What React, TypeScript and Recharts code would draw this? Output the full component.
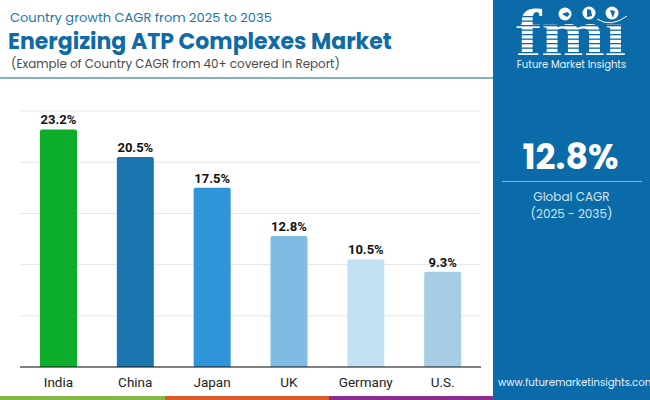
import { BarChart, Bar, XAxis, YAxis, CartesianGrid, Cell, LabelList } from 'recharts';

const countries = ['India', 'China', 'Japan', 'UK', 'Germany', 'U.S.'];
const cagr = [23.2, 20.5, 17.5, 12.8, 10.5, 9.3];
const barColors = ['#0cae2c', '#1b76b0', '#3095d8', '#7fbbe3', '#c3e0f3', '#a6cde4'];
const yTicks = [0, 5, 10, 15, 20, 25];

const chartData = countries.map((name, i) => ({ name, value: cagr[i] }));

const heading = 'Poppins, "Open Sans", Inter, sans-serif';
const stripes = [16, 20.5, 25, 29.5, 34, 38.5, 43, 47.5, 52];

function text(left: number, top: number, size: number, color: string, weight = 400) {
  return {
    position: 'absolute' as const,
    left,
    top,
    fontSize: size,
    color,
    fontWeight: weight,
    fontFamily: heading,
    lineHeight: 1,
    whiteSpace: 'nowrap' as const,
  };
}

function Logo() {
  return (
    <svg width={157} height={62} style={{ position: 'absolute', left: 0, top: 0 }}>
      <text x={23} y={55} fontFamily="'Liberation Serif', serif" fontWeight={700} fontSize={66} fill="#fff" textLength={110} lengthAdjust="spacingAndGlyphs">
        fmi
      </text>
      {stripes.map((y) => (
        <rect key={y} x={20} y={y} width={118} height={1.3} fill="#0b6aa8" />
      ))}
      <rect x={108} y={6} width={24} height={17} fill="#0b6aa8" />
      <circle cx={72} cy={14} r={6.5} fill="#fff" />
      <circle cx={96} cy={13} r={6.5} fill="#fff" />
      <circle cx={119} cy={13} r={6.5} fill="#fff" />
      <path d="M69 14 l5 -2 l3 2 l-3 3 z M94 9 l4 1 l1 6 l-5 1 z M117 10 l5 1 l-2 7 z" fill="#0b6aa8" />
      <path d="M104 19 Q118 28 134 16" fill="none" stroke="#fff" strokeWidth={1} />
    </svg>
  );
}

export default function App() {
  return (
    <div style={{ position: 'fixed', left: 0, top: 0, width: 650, height: 400, background: '#fff', overflow: 'hidden' }}>
      <div style={text(10, 10.5, 13, '#2176a8')}>Country growth CAGR from 2025 to 2035</div>
      <div style={text(8, 31, 22, '#0f6aa5', 700)}>Energizing ATP Complexes Market</div>
      <div style={text(11, 58.5, 11.9, '#4a4a4a')}>(Example of Country CAGR from 40+ covered in Report)</div>
      <div style={{ position: 'absolute', left: 0, top: 77, width: 493, height: 2, background: '#8aafc4' }} />

      <div style={{ position: 'absolute', left: 0, top: 90 }}>
        <BarChart
          width={493}
          height={306}
          data={chartData}
          margin={{ top: 21, right: 12, bottom: 4, left: 20 }}
        >
          <CartesianGrid vertical={false} stroke="#e6e6e6" strokeWidth={1} />
          <XAxis
            dataKey="name"
            height={25}
            axisLine={{ stroke: '#111', strokeWidth: 1 }}
            tickLine={false}
            interval={0}
            tick={{ fill: '#222', fontSize: 13.5, fontFamily: 'Roboto, sans-serif' }}
            tickMargin={4.5}
          />
          <YAxis hide domain={[0, 25]} ticks={yTicks} />
          <Bar dataKey="value" barSize={37} radius={[2, 2, 0, 0]} isAnimationActive={false}>
            {chartData.map((d, i) => (
              <Cell key={d.name} fill={barColors[i]} />
            ))}
            <LabelList
              dataKey="value"
              position="top"
              formatter={(v: number) => `${v}%`}
              style={{ fill: '#111', fontSize: 13, fontWeight: 700, fontFamily: 'Roboto, sans-serif' }}
            />
          </Bar>
        </BarChart>
      </div>

      <div style={{ position: 'absolute', left: 0, top: 396, width: 165, height: 4, background: '#86b846' }} />
      <div style={{ position: 'absolute', left: 165, top: 396, width: 164, height: 4, background: '#dd5a2b' }} />
      <div style={{ position: 'absolute', left: 329, top: 396, width: 164, height: 4, background: '#8a2d8c' }} />

      <div style={{ position: 'absolute', left: 493, top: 0, width: 157, height: 400, background: '#0b6aa8' }}>
        <Logo />
        <div style={{ ...text(0, 60, 10, '#e8f2f8'), width: 157, textAlign: 'center' }}>Future Market Insights</div>
        <div style={{ ...text(0, 139, 35, '#fff', 700), width: 155, textAlign: 'center' }}>12.8%</div>
        <div style={{ position: 'absolute', left: 9, top: 180.5, width: 140, height: 1.5, background: '#7fb2d9' }} />
        <div style={{ ...text(0, 191, 12, '#cfe5f5'), width: 157, textAlign: 'center' }}>Global CAGR</div>
        <div style={{ ...text(0, 208, 12, '#cfe5f5'), width: 157, textAlign: 'center' }}>(2025 - 2035)</div>
        <div style={{ ...text(5, 378, 10.1, '#e8f2f8') }}>www.futuremarketinsights.com</div>
      </div>
    </div>
  );
}
